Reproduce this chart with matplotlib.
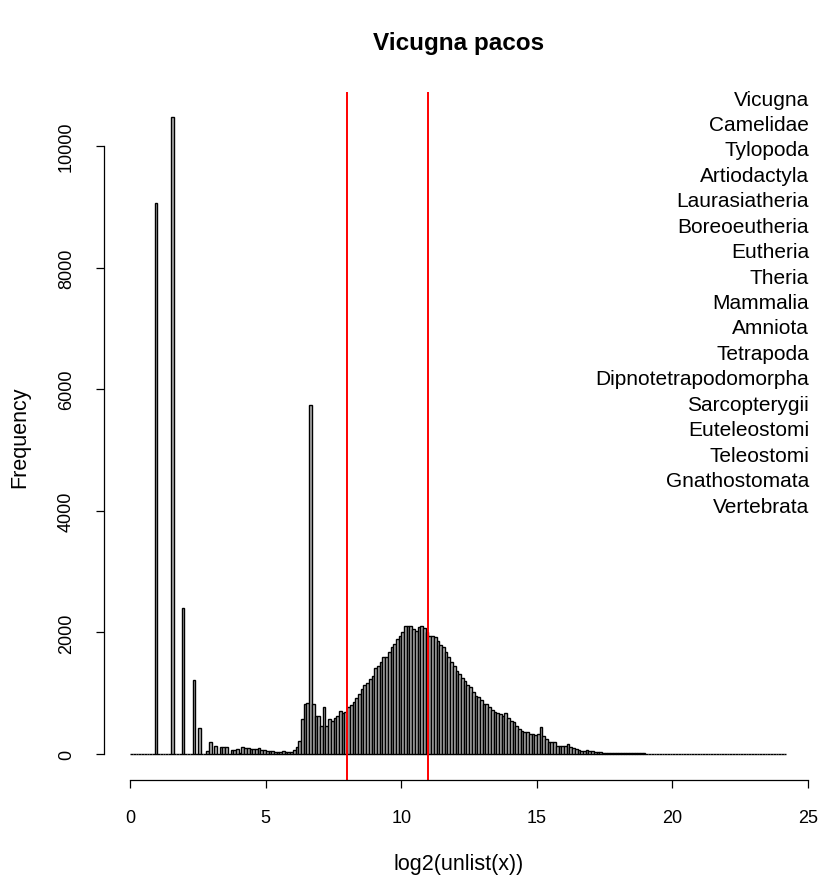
import numpy as np
import matplotlib
matplotlib.use("Agg")
import matplotlib.pyplot as plt

plt.rcParams["font.family"] = ["Liberation Sans", "DejaVu Sans"]

# histogram of log2 values, breaks every 0.1 starting at 0
bin_width = 0.1
counts_low = [
    0, 0, 0, 0, 0, 0, 0, 0, 0, 9060,          # 0.1 - 1.0
    0, 0, 0, 0, 0, 10470, 0, 0, 0, 2410,      # 1.1 - 2.0
    0, 0, 0, 1215, 0, 425, 0, 0, 45, 190,     # 2.1 - 3.0
    0, 137, 0, 110, 120, 120, 0, 60, 65, 75,  # 3.1 - 4.0
    25, 110, 105, 100, 85, 90, 75, 95, 60, 70,  # 4.1 - 5.0
    55, 45, 50, 40, 35, 38, 42, 33, 36, 30,   # 5.1 - 6.0
    60, 110,                                  # 6.1 - 6.2
]
counts_mid = [
    219, 575, 822, 833, 5740, 822, 620, 620, 466, 778,          # 6.3 - 7.2
    466, 575, 548, 587, 620, 702, 669, 685, 768, 806,           # 7.3 - 8.2
    861, 916, 987, 1069, 1135, 1168, 1234, 1288, 1409, 1442,    # 8.3 - 9.2
    1519, 1590, 1590, 1683, 1754, 1809, 1891, 1946, 2012, 2111,  # 9.3 - 10.2
    2100, 2111, 2056, 2028, 2083, 2100, 2067, 2012, 1946, 1946,  # 10.3 - 11.2
    1919, 1864, 1793, 1754, 1672, 1590, 1508, 1442, 1371, 1316,  # 11.3 - 12.2
    1245, 1206, 1135, 1096, 1014, 948, 932, 894, 822, 822,      # 12.3 - 13.2
    768, 724, 685, 669, 658, 620, 674, 587, 548, 532,           # 13.3 - 14.2
    466, 411, 384, 367, 356, 329, 329, 312, 329,                # 14.3 - 15.1
]
counts_tail = [
    438, 301, 247, 203, 192, 192, 137, 126, 126, 130,  # 15.2 - 16.1
    170, 120, 99, 82, 71, 55, 49, 71, 55, 44,          # 16.2 - 17.1
    38, 33, 27, 25, 24, 22, 21, 20, 18, 17,            # 17.2 - 18.1
    16, 15, 14, 13, 12, 11, 10, 10, 9, 8,              # 18.2 - 19.1
    8, 7, 7, 6, 6, 5, 5, 5, 4, 4,                      # 19.2 - 20.1
    4, 4, 3, 3, 3, 3, 3, 2, 2, 2,                      # 20.2 - 21.1
    2, 2, 2, 2, 1, 2, 1, 1, 1, 1,                      # 21.2 - 22.1
    1, 1, 1, 0, 1, 1, 0, 1, 0, 1,                      # 22.2 - 23.1
    0, 1, 0, 0, 1, 0, 0, 0, 1, 0,                      # 23.2 - 24.1
    1,                                                 # 24.2
]

cutoffs = [8, 11]
taxa = ["Vicugna", "Camelidae", "Tylopoda", "Artiodactyla", "Laurasiatheria",
        "Boreoeutheria", "Eutheria", "Theria", "Mammalia", "Amniota",
        "Tetrapoda", "Dipnotetrapodomorpha", "Sarcopterygii", "Euteleostomi",
        "Teleostomi", "Gnathostomata", "Vertebrata"]
title = "Vicugna pacos"
xlabel = "log2(unlist(x))"
ylabel = "Frequency"
xticks = [0, 5, 10, 15, 20, 25]
yticks = [0, 2000, 4000, 6000, 8000, 10000]

counts = np.array(counts_low + counts_mid + counts_tail)
breaks = np.round(np.arange(len(counts) + 1) * bin_width, 1)

W, H = 823, 887
fig = plt.figure(figsize=(W / 100, H / 100), dpi=100)
ax = fig.add_axes([104 / W, 1 - 780.5 / H, (812.6 - 104) / W, (780.5 - 93) / H])

ax.bar(breaks[:-1], counts, width=bin_width, align="edge",
       color="#B4B4B4", edgecolor="black", linewidth=1.0)
for c in cutoffs:
    ax.axvline(c, color="red", lw=1.4)

# R-style axis ranges (4% padding) and detached axes
xr = breaks[-1] - breaks[0]
ax.set_xlim(breaks[0] - 0.04 * xr, breaks[-1] + 0.04 * xr)
ymax = counts.max()
ax.set_ylim(-0.04 * ymax, 1.04 * ymax)

for s in ["top", "right"]:
    ax.spines[s].set_visible(False)
ax.spines["bottom"].set_bounds(xticks[0], xticks[-1])
ax.spines["left"].set_bounds(yticks[0], yticks[-1])
for s in ["bottom", "left"]:
    ax.spines[s].set_linewidth(0.9)

ax.set_xticks(xticks)
ax.set_yticks(yticks)
ax.set_yticklabels([str(v) for v in yticks], rotation=90, va="center")
ax.tick_params(length=6, width=0.9, labelsize=13, pad=15)

ax.set_xlabel(xlabel, fontsize=15.5, labelpad=20)
ax.set_ylabel(ylabel, fontsize=15.5, labelpad=20)
ax.set_title(title, fontsize=17.5, fontweight="bold", pad=31)

for i, name in enumerate(taxa):
    fig.text(809 / W, 1 - (100 + 25.44 * i) / H, name, ha="right",
             va="center", fontsize=15)

fig.savefig("out.png", dpi=100, facecolor="white")
